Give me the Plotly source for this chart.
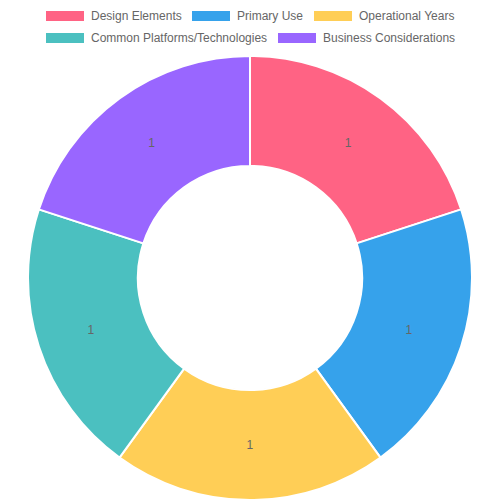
import plotly.graph_objects as go

labels = ["Design Elements", "Primary Use", "Operational Years",
          "Common Platforms/Technologies", "Business Considerations"]
values = [1, 1, 1, 1, 1]
colors = ["#FF6384", "#36A2EB", "#FFCE56", "#4BC0C0", "#9966FF"]

W, H = 500, 500
OFF = 8  # page body margin offset

fig = go.Figure(go.Pie(
    labels=labels, values=values, sort=False, direction="clockwise", rotation=0,
    hole=0.505,
    marker=dict(colors=colors, line=dict(color="white", width=2)),
    textinfo="value", textposition="inside", insidetextorientation="horizontal",
    textfont=dict(family="Liberation Sans, Arial", size=12, color="#666666"),
    domain=dict(x=[(28 - OFF) / W, (472 - OFF) / W], y=[OFF / H, 1 - (56 - OFF) / H]),
    hoverinfo="label+value",
))

# Chart.js style legend (box 38x10 + label)
legend_pos = [(46, 16), (192, 16), (314, 16), (46, 38), (278, 38)]
shapes, annotations = [], []
for (lx, ly), lab, col in zip(legend_pos, labels, colors):
    lx -= OFF
    ly -= OFF
    shapes.append(dict(type="rect", xref="paper", yref="paper",
                       x0=lx / W, x1=(lx + 38) / W,
                       y0=1 - (ly - 5) / H, y1=1 - (ly + 5) / H,
                       fillcolor=col, line=dict(width=0)))
    annotations.append(dict(xref="paper", yref="paper", x=(lx + 43) / W, y=1 - ly / H,
                            text=lab, showarrow=False, xanchor="left", yanchor="middle",
                            font=dict(family="Liberation Sans, Arial", size=12, color="#666666")))

fig.update_layout(
    width=W, height=H, margin=dict(l=0, r=0, t=0, b=0),
    showlegend=False, paper_bgcolor="white", plot_bgcolor="white",
    shapes=shapes, annotations=annotations,
)
fig.write_html("out.html")
